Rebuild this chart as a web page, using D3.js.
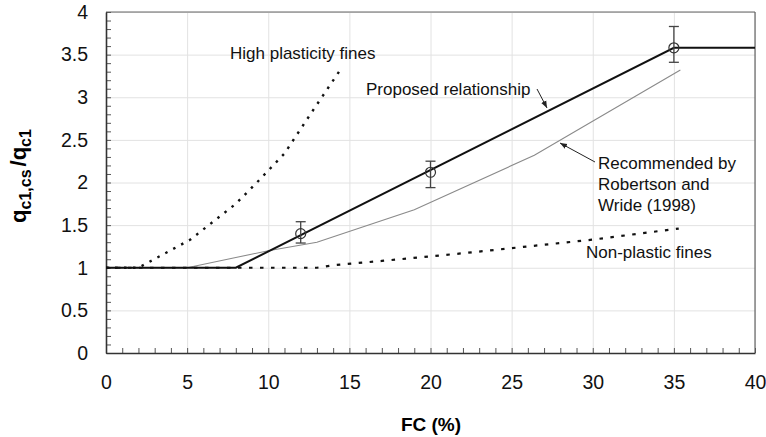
<!DOCTYPE html>
<html>
<head>
<meta charset="utf-8">
<script src="https://cdn.jsdelivr.net/npm/d3@7"></script>
<style>
  body { margin: 0; background: #fff; }
  svg { font-family: "Liberation Sans", Arial, sans-serif; }
</style>
</head>
<body>
<div id="chart"></div>
<script>
// data
const xTicks = [0, 5, 10, 15, 20, 25, 30, 35, 40];
const yTicks = [0, 0.5, 1, 1.5, 2, 2.5, 3, 3.5, 4];

const proposedFC = [0, 8, 35, 40];
const proposedQ  = [1, 1, 3.58, 3.58];

const robertsonFC = [0, 5, 8, 10, 13, 19, 26.4, 35.4];
const robertsonQ  = [1, 1, 1.12, 1.2, 1.3, 1.68, 2.32, 3.32];

const nonPlasticFC = [0, 13, 14, 17, 22, 27, 30, 35.3];
const nonPlasticQ  = [1, 1, 1.03, 1.08, 1.17, 1.27, 1.33, 1.46];

const highPlasticFC = [0, 2, 5.2, 8, 9.3, 11, 12.7, 14.4];
const highPlasticQ  = [1, 1, 1.33, 1.75, 2.0, 2.34, 2.83, 3.31];

const pointFC  = [12, 20, 35];
const pointQ   = [1.4, 2.12, 3.58];
const pointLow = [1.29, 1.94, 3.41];
const pointHigh = [1.54, 2.25, 3.83];

const width = 766, height = 437;
const margin = { top: 12, right: 11, bottom: 84, left: 106 };
const innerW = width - margin.left - margin.right;
const innerH = height - margin.top - margin.bottom;

const svg = d3.select('#chart').append('svg')
  .attr('width', width)
  .attr('height', height);

svg.append('defs').append('marker')
  .attr('id', 'arrow')
  .attr('viewBox', '0 0 10 10')
  .attr('refX', 10).attr('refY', 5)
  .attr('markerWidth', 7).attr('markerHeight', 7)
  .attr('orient', 'auto')
  .append('path')
  .attr('d', 'M0,1 L10,5 L0,9 Z')
  .attr('fill', '#222');

const g = svg.append('g').attr('transform', `translate(${margin.left},${margin.top})`);

const x = d3.scaleLinear().domain([0, 40]).range([0, innerW]);
const y = d3.scaleLinear().domain([0, 4]).range([innerH, 0]);

// gridlines
g.append('g')
  .attr('transform', `translate(0,${innerH})`)
  .call(d3.axisBottom(x).tickValues(xTicks).tickSize(-innerH).tickFormat(''))
  .call(a => a.select('.domain').remove())
  .call(a => a.selectAll('line').attr('stroke', '#e2e2e2'));
g.append('g')
  .call(d3.axisLeft(y).tickValues(yTicks).tickSize(-innerW).tickFormat(''))
  .call(a => a.select('.domain').remove())
  .call(a => a.selectAll('line').attr('stroke', '#e2e2e2'));

// top and right frame
g.append('line').attr('x1', 0).attr('x2', innerW).attr('y1', 0).attr('y2', 0)
  .attr('stroke', '#666').attr('stroke-width', 1.2);
g.append('line').attr('x1', innerW).attr('x2', innerW).attr('y1', 0).attr('y2', innerH)
  .attr('stroke', '#666').attr('stroke-width', 1.2);

// minor ticks, pointing inward
g.append('g')
  .attr('transform', `translate(0,${innerH})`)
  .call(d3.axisBottom(x).tickValues(d3.range(0, 41, 1)).tickSize(-5).tickFormat(''))
  .call(a => a.select('.domain').remove())
  .call(a => a.selectAll('line').attr('stroke', '#555'));
g.append('g')
  .call(d3.axisLeft(y).tickValues(d3.range(0, 41).map(d => d / 10)).tickSize(-5).tickFormat(''))
  .call(a => a.select('.domain').remove())
  .call(a => a.selectAll('line').attr('stroke', '#555'));

// main axes with labels
g.append('g')
  .attr('transform', `translate(0,${innerH})`)
  .call(d3.axisBottom(x).tickValues(xTicks).tickSize(0).tickPadding(22).tickFormat(d3.format('d')))
  .call(a => a.select('.domain').attr('stroke', '#333').attr('stroke-width', 1.6))
  .call(a => a.selectAll('text').attr('font-size', 19.5).attr('fill', '#111')
    .attr('font-family', '"Liberation Sans", Arial, sans-serif'));
g.append('g')
  .call(d3.axisLeft(y).tickValues(yTicks).tickSize(0).tickPadding(18).tickFormat(d => d))
  .call(a => a.select('.domain').attr('stroke', '#333').attr('stroke-width', 1.6))
  .call(a => a.selectAll('text').attr('font-size', 19.5).attr('fill', '#111')
    .attr('font-family', '"Liberation Sans", Arial, sans-serif'));

const line = d3.line().x(d => x(d[0])).y(d => y(d[1]));
const zip = (a, b) => a.map((v, i) => [v, b[i]]);

// Robertson and Wride (1998)
g.append('path').datum(zip(robertsonFC, robertsonQ))
  .attr('d', line).attr('fill', 'none').attr('stroke', '#8a8a8a').attr('stroke-width', 1.1);

// non-plastic fines
g.append('path').datum(zip(nonPlasticFC, nonPlasticQ))
  .attr('d', line).attr('fill', 'none').attr('stroke', '#111').attr('stroke-width', 2.2)
  .attr('stroke-dasharray', '3.5,7.5');

// high plasticity fines
g.append('path').datum(zip(highPlasticFC, highPlasticQ))
  .attr('d', line).attr('fill', 'none').attr('stroke', '#111').attr('stroke-width', 2.4)
  .attr('stroke-dasharray', '2.5,6.5');

// proposed relationship
g.append('path').datum(zip(proposedFC, proposedQ))
  .attr('d', line).attr('fill', 'none').attr('stroke', '#111').attr('stroke-width', 2);

// data points with error bars
const pts = pointFC.map((v, i) => ({ fc: v, q: pointQ[i], lo: pointLow[i], hi: pointHigh[i] }));
const pg = g.append('g').selectAll('g').data(pts).join('g');
pg.append('line')
  .attr('x1', d => x(d.fc)).attr('x2', d => x(d.fc))
  .attr('y1', d => y(d.lo)).attr('y2', d => y(d.hi))
  .attr('stroke', '#444').attr('stroke-width', 1.3);
[d => d.lo, d => d.hi].forEach(f => {
  pg.append('line')
    .attr('x1', d => x(d.fc) - 5).attr('x2', d => x(d.fc) + 5)
    .attr('y1', d => y(f(d))).attr('y2', d => y(f(d)))
    .attr('stroke', '#444').attr('stroke-width', 1.3);
});
pg.append('circle')
  .attr('cx', d => x(d.fc)).attr('cy', d => y(d.q)).attr('r', 5)
  .attr('fill', 'none').attr('stroke', '#333').attr('stroke-width', 1.2);

// annotations
const ann = svg.append('g').attr('font-size', 17).attr('fill', '#111');
ann.append('text').attr('x', 230).attr('y', 59).text('High plasticity fines');
ann.append('text').attr('x', 366).attr('y', 95).text('Proposed relationship');
ann.append('text').attr('x', 598).attr('y', 169).text('Recommended by');
ann.append('text').attr('x', 598).attr('y', 190).text('Robertson and');
ann.append('text').attr('x', 598).attr('y', 211).text('Wride (1998)');
ann.append('text').attr('x', 586).attr('y', 258).text('Non-plastic fines');

svg.append('line').attr('x1', 537).attr('y1', 89).attr('x2', 547).attr('y2', 108)
  .attr('stroke', '#222').attr('stroke-width', 1).attr('marker-end', 'url(#arrow)');
svg.append('line').attr('x1', 595).attr('y1', 162).attr('x2', 560).attr('y2', 143)
  .attr('stroke', '#222').attr('stroke-width', 1).attr('marker-end', 'url(#arrow)');

// axis titles
svg.append('text')
  .attr('x', 431).attr('y', 431)
  .attr('text-anchor', 'middle')
  .attr('font-size', 19).attr('font-weight', 'bold')
  .text('FC (%)');

const yt = svg.append('text')
  .attr('transform', 'translate(26,176) rotate(-90)')
  .attr('text-anchor', 'middle')
  .attr('font-size', 22).attr('font-weight', 'bold');
yt.append('tspan').text('q');
yt.append('tspan').attr('font-size', 16).attr('dy', 5).text('c1,cs');
yt.append('tspan').attr('dy', -5).attr('dx', 3).text('/q');
yt.append('tspan').attr('font-size', 16).attr('dy', 5).text('c1');
</script>
</body>
</html>
